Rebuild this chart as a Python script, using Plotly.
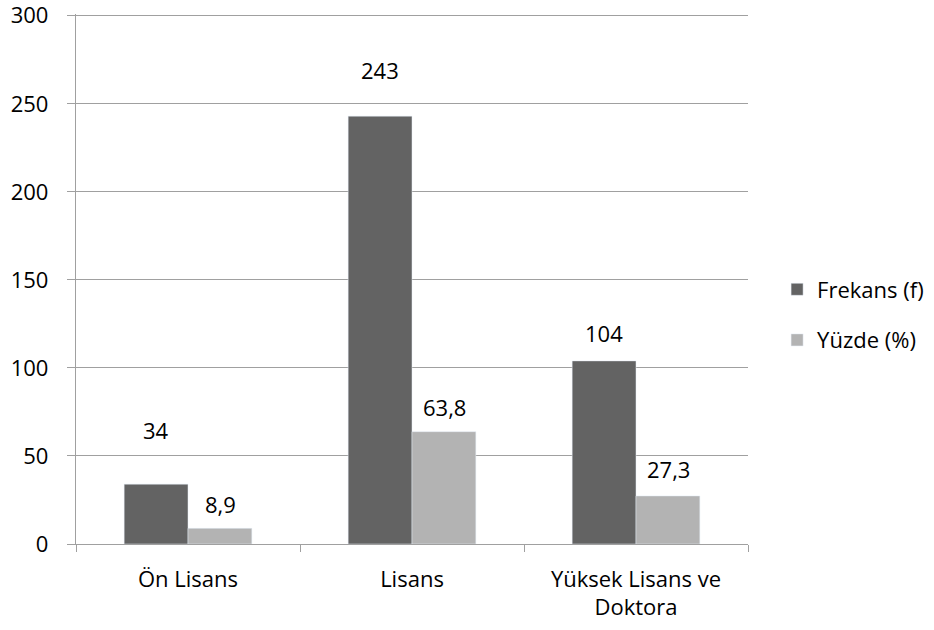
import plotly.graph_objects as go

categories = ["Ön Lisans", "Lisans", "Yüksek Lisans ve<br>Doktora"]
frekans = [34, 243, 104]
yuzde = [8.9, 63.8, 27.3]
frekans_labels = ["34", "243", "104"]
yuzde_labels = ["8,9", "63,8", "27,3"]
y_ticks = [0, 50, 100, 150, 200, 250, 300]

# label lift above bar top (pixels) - styling only
frekans_lift = [54, 46, 28]
yuzde_lift = [24, 25, 27]

DARK = "#636363"
LIGHT = "#b3b3b3"
GRID = "#a0a0a0"
FONT = "Open Sans"
FS = 22

fig = go.Figure()
fig.add_trace(go.Bar(x=categories, y=frekans, name="Frekans (f)", marker_color=DARK,
                     legendgroup="a"))
fig.add_trace(go.Bar(x=categories, y=yuzde, name="Yüzde (%)", marker_color=LIGHT,
                     legendgroup="b"))

for cat, v, t, lift in zip(categories, frekans, frekans_labels, frekans_lift):
    fig.add_annotation(x=cat, y=v, text=t, showarrow=False, xshift=-32, yshift=lift,
                       yanchor="middle", font=dict(family=FONT, size=FS, color="#000"))
for cat, v, t, lift in zip(categories, yuzde, yuzde_labels, yuzde_lift):
    fig.add_annotation(x=cat, y=v, text=t, showarrow=False, xshift=32, yshift=lift,
                       yanchor="middle", font=dict(family=FONT, size=FS, color="#000"))

fig.update_layout(
    width=934, height=630,
    margin=dict(l=76, r=186, t=14, b=86),
    paper_bgcolor="white", plot_bgcolor="white",
    barmode="group", bargap=0.43, bargroupgap=0,
    font=dict(family=FONT, size=FS, color="#000"),
    showlegend=True,
    legend=dict(xref="container", yref="container", x=0.832, y=0.5,
                xanchor="left", yanchor="middle",
                tracegroupgap=19, font=dict(family=FONT, size=FS, color="#000")),
)
fig.update_xaxes(
    showgrid=False, showline=True, linecolor=GRID, linewidth=1.3,
    ticks="outside", tickson="boundaries", ticklen=7, tickcolor=GRID, tickwidth=1.3,
    ticklabelstandoff=15, automargin=False, ticklabeloverflow="allow",
)
fig.update_yaxes(
    range=[0, 301], tickvals=y_ticks, showgrid=True, gridcolor=GRID, gridwidth=1.3,
    showline=True, linecolor=GRID, linewidth=1.3,
    ticks="outside", ticklen=8, tickcolor=GRID, tickwidth=1.3,
    ticklabelstandoff=14, zeroline=False, automargin=False, ticklabeloverflow="allow",
)

fig.write_html(
    "out.html",
    config={"displayModeBar": False},
    post_script="document.body.style.margin='0';document.body.style.overflow='hidden';",
)
